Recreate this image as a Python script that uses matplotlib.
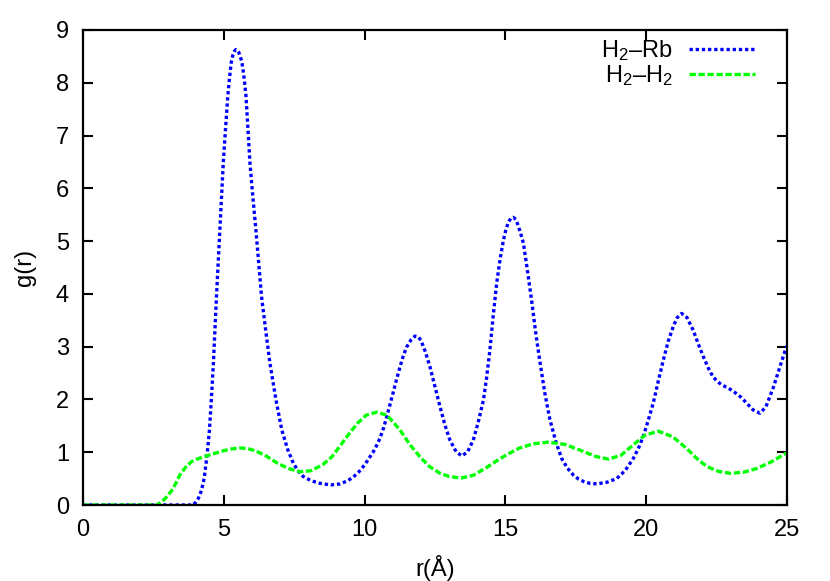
import matplotlib
matplotlib.use("Agg")
import matplotlib.pyplot as plt

plt.rcParams['font.family'] = ['Liberation Sans', 'DejaVu Sans']
plt.rcParams['mathtext.fontset'] = 'custom'
plt.rcParams['mathtext.rm'] = 'Liberation Sans'
plt.rcParams['mathtext.it'] = 'Liberation Sans'

# H2-Rb
rb_r = [0, 1, 2, 3, 3.9, 4.0, 4.1, 4.21, 4.3, 4.37, 4.43, 4.49, 4.56, 4.63, 4.74,
        4.86, 4.98, 5.06, 5.14, 5.2, 5.26, 5.32, 5.38, 5.43, 5.48, 5.53, 5.58, 5.63,
        5.67, 5.73, 5.79, 5.86, 5.93, 6.03, 6.14, 6.24, 6.34, 6.49, 6.64, 6.85, 7.06,
        7.27, 7.47, 7.65, 7.82, 8.1, 8.42, 8.8, 9.13, 9.4, 9.6, 9.8, 10.0, 10.15,
        10.3, 10.42, 10.55, 10.68, 10.8, 10.9, 11.0, 11.13, 11.26, 11.38, 11.5,
        11.65, 11.79, 11.9, 12.0, 12.16, 12.32, 12.5, 12.68, 12.85, 13.03, 13.25,
        13.45, 13.65, 13.86, 14.04, 14.22, 14.33, 14.45, 14.57, 14.69, 14.81, 14.93,
        15.01, 15.1, 15.19, 15.28, 15.37, 15.45, 15.54, 15.64, 15.78, 15.93, 16.08,
        16.23, 16.4, 16.58, 16.79, 17.0, 17.2, 17.41, 17.6, 17.8, 18.0, 18.24, 18.6,
        18.95, 19.25, 19.54, 19.72, 19.89, 20.07, 20.25, 20.43, 20.61, 20.78, 20.96,
        21.1, 21.26, 21.45, 21.67, 21.85, 22.03, 22.2, 22.37, 22.55, 22.7, 22.9,
        23.08, 23.35, 23.57, 23.8, 24.04, 24.25, 24.51, 24.75, 24.93, 25.0]
rb_g = [0, 0, 0, 0, 0, 0.05, 0.13, 0.28, 0.5, 0.79, 1.08, 1.42, 2.02, 2.68, 3.95,
        5.21, 6.47, 7.12, 7.73, 8.08, 8.37, 8.52, 8.6, 8.63, 8.62, 8.58, 8.5, 8.42,
        8.3, 8.05, 7.73, 7.1, 6.47, 5.85, 5.21, 4.58, 3.95, 3.3, 2.68, 2.0, 1.42,
        1.05, 0.79, 0.64, 0.54, 0.46, 0.41, 0.38, 0.40, 0.46, 0.53, 0.63, 0.76, 0.88,
        1.0, 1.12, 1.27, 1.47, 1.70, 1.9, 2.1, 2.37, 2.62, 2.84, 3.0,
        3.13, 3.20, 3.19, 3.12, 2.9, 2.62, 2.24, 1.86, 1.52, 1.23, 1.01,
        0.93, 1.0, 1.23, 1.58, 1.99, 2.4, 2.94, 3.6, 4.20, 4.65, 5.02,
        5.2, 5.35, 5.43, 5.45, 5.41, 5.3, 5.15, 4.96, 4.45, 3.88, 3.25,
        2.7, 2.12, 1.62, 1.2, 0.88, 0.7, 0.57, 0.49, 0.44, 0.41, 0.40, 0.43,
        0.50, 0.65, 0.88, 1.07, 1.29, 1.6, 1.93, 2.35, 2.75, 3.1, 3.38,
        3.55, 3.63, 3.55, 3.31, 3.05, 2.81, 2.6, 2.43, 2.33, 2.27, 2.22,
        2.16, 2.05, 1.93, 1.8, 1.74, 1.86, 2.22, 2.62, 2.92, 3.02]

# H2-H2
hh_r = [0, 1, 2, 2.62, 2.8, 3.0, 3.2, 3.44, 3.65, 3.85, 4.05, 4.27, 4.5, 4.75, 5.0,
        5.25, 5.55, 5.85, 6.15, 6.5, 6.88, 7.3, 7.71, 8.1, 8.53, 8.85, 9.13, 9.45,
        9.75, 10.05, 10.43, 10.8, 11.26, 11.6, 11.97, 12.3, 12.68, 13.0, 13.42,
        13.85, 14.33, 14.7, 15.04, 15.5, 16.0, 16.52, 17.1, 17.65, 18.2, 18.66,
        19.1, 19.54, 19.95, 20.43, 20.95, 21.44, 21.8, 22.15, 22.55, 22.98, 23.45,
        23.92, 24.45, 24.93, 25.0]
hh_g = [0, 0, 0, 0, 0.06, 0.17, 0.31, 0.57, 0.72, 0.82, 0.87, 0.91, 0.95, 0.99, 1.03,
        1.06, 1.08, 1.07, 1.02, 0.93, 0.8, 0.69, 0.63, 0.65, 0.77, 0.92, 1.12, 1.35,
        1.55, 1.7, 1.76, 1.70, 1.42, 1.15, 0.91, 0.73, 0.60, 0.54, 0.51,
        0.56, 0.71, 0.84, 0.95, 1.08, 1.16, 1.19, 1.15, 1.04, 0.92, 0.87,
        0.94, 1.14, 1.32, 1.40, 1.29, 1.07, 0.88, 0.73, 0.64, 0.60, 0.62,
        0.69, 0.82, 0.97, 0.99]

x_ticks = [0, 5, 10, 15, 20, 25]
y_ticks = [0, 1, 2, 3, 4, 5, 6, 7, 8, 9]

fig = plt.figure(figsize=(8.3, 5.81), dpi=100)
ax = fig.add_axes([83 / 830, 76 / 581, 704 / 830, 475 / 581])

ax.plot(rb_r, rb_g, color='#0000ff', lw=2.4, dashes=(1.0, 0.85),
        dash_capstyle='butt', label=r'H$_2$–Rb')
ax.plot(hh_r, hh_g, color='#00ff00', lw=2.4, dashes=(1.9, 0.8),
        dash_capstyle='butt', label=r'H$_2$–H$_2$')

ax.set_xlim(0, 25)
ax.set_ylim(0, 9)
ax.set_xticks(x_ticks)
ax.set_yticks(y_ticks)
ax.tick_params(direction='in', length=7, width=1.5, top=True, right=True,
               labelsize=17, pad=10)
for s in ax.spines.values():
    s.set_linewidth(1.6)

ax.set_xlabel('r(Å)', fontsize=17, labelpad=10)
ax.set_ylabel('g(r)', fontsize=17, labelpad=14)

ax.legend(loc='upper right', bbox_to_anchor=(0.955, 0.983), frameon=False,
          markerfirst=False, fontsize=17, handlelength=2.8, handletextpad=0.7,
          labelspacing=0.0, borderpad=0, borderaxespad=0)

fig.savefig('out.png', dpi=100)
